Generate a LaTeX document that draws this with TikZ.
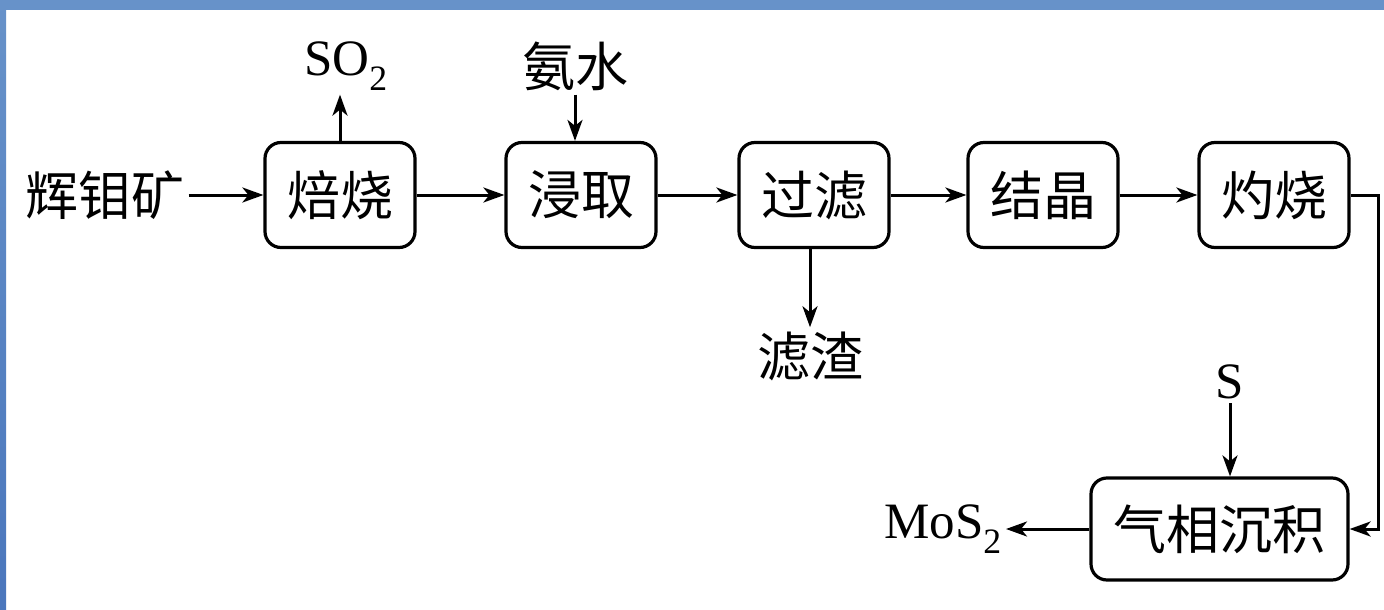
\documentclass[tikz,border=0pt]{standalone}
\usepackage{fontspec}
\setmainfont{Liberation Serif}
\newfontfamily\cjk{Noto Sans CJK SC}
\usetikzlibrary{arrows.meta}
\definecolor{frameblue}{RGB}{103,146,201}
\definecolor{frameblueB}{RGB}{74,118,188}
\tikzset{
  proc/.style={draw, line width=3.2pt, rounded corners=16pt, minimum width=150pt, minimum height=105pt, inner sep=0pt, font=\cjk\fontsize{53}{58}\selectfont},
  lbl/.style={inner sep=4pt, font=\cjk\fontsize{53}{58}\selectfont},
  ltn/.style={inner sep=4pt, font=\fontsize{51}{56}\selectfont},
  arr/.style={line width=3pt, -{Stealth[length=21pt,width=15pt,inset=6pt]}}
}
\begin{document}
\begin{tikzpicture}[x=1pt,y=-1pt]
\useasboundingbox (0,0) rectangle (1384,610);
\fill[white] (0,0) rectangle (1384,610);
\shade[top color=frameblue, bottom color=frameblueB] (0,0) rectangle (6,610);
\fill[frameblue] (0,0) rectangle (1384,10);
\node[lbl] (hmk) at (105,195) {辉钼矿};
\node[proc] (bs) at (340,195) {焙烧};
\node[proc] (jq) at (581,195) {浸取};
\node[proc] (gl) at (814,195) {过滤};
\node[proc] (jj) at (1043,195) {结晶};
\node[proc] (zs) at (1274,195) {灼烧};
\node[proc, minimum width=257pt, minimum height=102pt] (qx) at (1219.5,529) {气相沉积};
\node[ltn] (so2) at (346,66) {SO\textsubscript{2}};
\node[lbl] (ans) at (575,66) {氨水};
\node[lbl] (lz) at (810,356) {滤渣};
\node[ltn] (s) at (1230,382) {S};
\node[ltn, anchor=east] (mos) at (1006,529) {MoS\textsubscript{2}};
\draw[arr] (hmk) -- (bs);
\draw[arr] (bs) -- (jq);
\draw[arr] (jq) -- (gl);
\draw[arr] (gl) -- (jj);
\draw[arr] (jj) -- (zs);
\draw[arr] (bs.north) -- (bs.north |- so2.south);
\draw[arr] (ans.south) -- (ans.south |- jq.north);
\draw[arr] (lz.north |- gl.south) -- (lz.north);
\draw[arr] (s.south) -- (s.south |- qx.north);
\draw[arr] (zs.east) -- ++(28,0) |- (qx.east);
\draw[arr] (qx.west) -- (qx.west -| mos.east);
\end{tikzpicture}
\end{document}
